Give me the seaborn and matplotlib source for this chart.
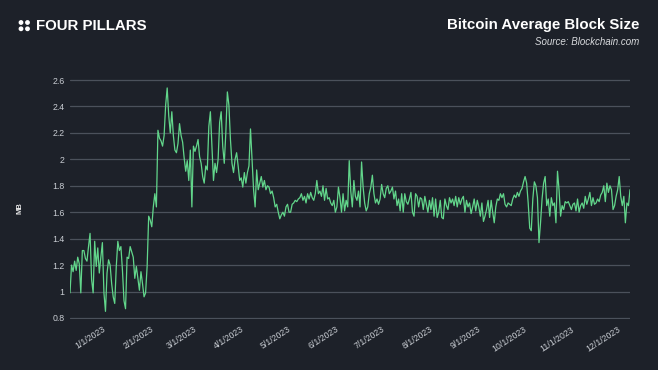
import pandas as pd
import numpy as np
import matplotlib.pyplot as plt
import matplotlib.patches as mpatches
import seaborn as sns

# Datos diarios (MB), desde el 8/12/2022
fecha_inicio = '2022-12-08'

dic_ene = [0.99, 1.20, 1.15, 1.23, 1.16, 1.26, 1.21, 0.99, 1.31, 1.31,
           1.25, 1.23, 1.34, 1.44, 1.09, 0.99, 1.38, 1.19, 1.33, 1.14,
           1.26, 1.37, 0.99, 0.85, 1.14, 1.24, 1.20, 1.06, 0.96, 0.91,
           1.19, 1.38, 1.31, 1.34, 1.16, 0.93, 0.87, 1.26, 1.25, 1.34,
           1.30, 1.26, 1.10, 1.19, 1.10, 1.01, 1.15, 1.06, 0.96, 0.99,
           1.19, 1.57]

feb_abr = [1.54, 1.49, 1.64, 1.74, 1.64, 2.22, 2.16, 2.14, 2.10, 2.18,
           2.41, 2.54, 2.33, 2.20, 2.36, 2.18, 2.07, 2.05, 2.12, 2.27,
           2.18, 2.13, 2.01, 1.91, 1.99, 1.84, 2.07, 1.64, 2.10, 2.06,
           2.10, 2.15, 2.02, 1.97, 1.87, 1.82, 1.95, 1.92, 2.25, 2.36,
           2.10, 1.84, 1.97, 1.90, 2.00, 2.28, 2.36, 2.10, 1.97, 2.20,
           2.51, 2.41, 2.15, 1.97, 1.90, 2.00, 2.05, 1.95, 1.84, 1.86,
           1.79, 1.90, 1.82, 1.90, 1.95, 2.23, 2.00, 1.77, 1.64, 1.92,
           1.77, 1.82, 1.87, 1.79, 1.84, 1.77, 1.80, 1.79, 1.74]

abr_jun = [1.76, 1.71, 1.64, 1.66, 1.60, 1.55, 1.58, 1.60, 1.57, 1.64,
           1.66, 1.60, 1.60, 1.66, 1.67, 1.69, 1.68, 1.70, 1.71, 1.74,
           1.69, 1.72, 1.67, 1.74, 1.70, 1.75, 1.71, 1.69, 1.74, 1.84,
           1.74, 1.76, 1.72, 1.80, 1.69, 1.78, 1.70, 1.71, 1.67, 1.65,
           1.69, 1.60, 1.64, 1.79, 1.71, 1.60, 1.74, 1.61, 1.69, 1.64,
           1.99, 1.76, 1.64, 1.84, 1.72, 1.69, 1.76, 1.64, 1.98, 1.79,
           1.67, 1.61, 1.64, 1.74, 1.79, 1.88, 1.74, 1.67, 1.70, 1.66,
           1.70, 1.81, 1.74, 1.71]

jul_sep = [1.78, 1.80, 1.74, 1.76, 1.79, 1.70, 1.76, 1.65, 1.70, 1.61,
           1.74, 1.60, 1.74, 1.68, 1.66, 1.70, 1.75, 1.60, 1.57, 1.74,
           1.72, 1.64, 1.71, 1.70, 1.62, 1.72, 1.66, 1.60, 1.69, 1.62,
           1.71, 1.57, 1.70, 1.56, 1.60, 1.69, 1.56, 1.55, 1.70, 1.65,
           1.62, 1.71, 1.67, 1.70, 1.65, 1.72, 1.64, 1.71, 1.66, 1.70,
           1.72, 1.60, 1.69, 1.64, 1.67, 1.59, 1.64, 1.70, 1.61, 1.69,
           1.64, 1.57, 1.67, 1.53, 1.57, 1.62, 1.69, 1.56, 1.69, 1.60,
           1.52, 1.64, 1.70, 1.69, 1.74, 1.71, 1.74, 1.66, 1.64, 1.67]

sep_dic = [1.66, 1.65, 1.70, 1.73, 1.71, 1.75, 1.72, 1.76, 1.78, 1.83,
           1.87, 1.82, 1.67, 1.48, 1.46, 1.70, 1.83, 1.80, 1.71, 1.37,
           1.52, 1.70, 1.82, 1.87, 1.65, 1.70, 1.57, 1.71, 1.65, 1.67,
           1.52, 1.91, 1.77, 1.57, 1.65, 1.62, 1.68, 1.67, 1.68, 1.65,
           1.62, 1.66, 1.67, 1.61, 1.70, 1.60, 1.65, 1.67, 1.63, 1.72,
           1.66, 1.70, 1.75, 1.65, 1.71, 1.66, 1.67, 1.70, 1.68, 1.73,
           1.75, 1.80, 1.68, 1.82, 1.75, 1.80, 1.77, 1.62, 1.65, 1.72,
           1.77, 1.87, 1.72, 1.65, 1.72, 1.52, 1.67, 1.65, 1.77]

fechas_ticks = ['2023-01-01', '2023-02-01', '2023-03-01', '2023-04-01',
                '2023-05-01', '2023-06-01', '2023-07-01', '2023-08-01',
                '2023-09-01', '2023-10-01', '2023-11-01', '2023-12-01']
etiquetas_x = ['1/1/2023', '2/1/2023', '3/1/2023', '4/1/2023', '5/1/2023',
               '6/1/2023', '7/1/2023', '8/1/2023', '9/1/2023', '10/1/2023',
               '11/1/2023', '12/1/2023']
ticks_y = [0.8, 1, 1.2, 1.4, 1.6, 1.8, 2, 2.2, 2.4, 2.6]

block_size = dic_ene + feb_abr + abr_jun + jul_sep + sep_dic
df = pd.DataFrame({
    'fecha': pd.date_range(fecha_inicio, periods=len(block_size), freq='D'),
    'mb': block_size,
})

fondo = '#1d2129'
texto = '#c9cdd3'

sns.set_theme(style='dark')
plt.rcParams['font.family'] = ['Liberation Sans', 'DejaVu Sans']

W, H = 658, 370
fig = plt.figure(figsize=(W / 100, H / 100), dpi=100, facecolor=fondo)
ax = fig.add_axes([70 / W, 50.7 / H, 560 / W, 240.6 / H])
ax.set_facecolor(fondo)

sns.lineplot(data=df, x='fecha', y='mb', ax=ax, color='#62d68b', linewidth=0.9)

ax.set_xlim(df['fecha'].iloc[0], df['fecha'].iloc[-1])
ax.set_ylim(0.79, 2.61)
ax.set_yticks(ticks_y)
ax.set_yticklabels([f'{v:g}' for v in ticks_y])
ax.set_xticks(pd.to_datetime(fechas_ticks))
ax.set_xticklabels(etiquetas_x, rotation=33, ha='right')
ax.grid(axis='y', color='#4b515b', linewidth=0.9)
ax.grid(axis='x', visible=False)
for s in ax.spines.values():
    s.set_visible(False)
ax.tick_params(length=0, colors=texto, labelsize=6.3, pad=4)
ax.set_xlabel('')
ax.set_ylabel('')

fig.text(20 / W, 1 - 208 / H, 'MB', rotation=90, color='#e8e8e8',
         fontsize=5.5, fontweight='bold', ha='center', va='center')

# Logo y titulos
for cx, cy in [(21, 22.5), (27.5, 22.5), (21, 28.8), (27.5, 28.8)]:
    fig.add_artist(mpatches.Circle((cx / 100, (H - cy) / 100), 0.017,
                                   transform=fig.dpi_scale_trans,
                                   color='white'))
fig.text(36 / W, 1 - 26 / H, 'FOUR PILLARS', color='white', fontsize=10.8,
         fontweight='bold', ha='left', va='center')
fig.text(639 / W, 1 - 24.5 / H, 'Bitcoin Average Block Size', color='white',
         fontsize=10.8, fontweight='bold', ha='right', va='center')
fig.text(639 / W, 1 - 42 / H, 'Source: Blockchain.com', color='#d8dadd',
         fontsize=7, style='italic', ha='right', va='center')

plt.savefig('out.png', dpi=100, facecolor=fondo)
